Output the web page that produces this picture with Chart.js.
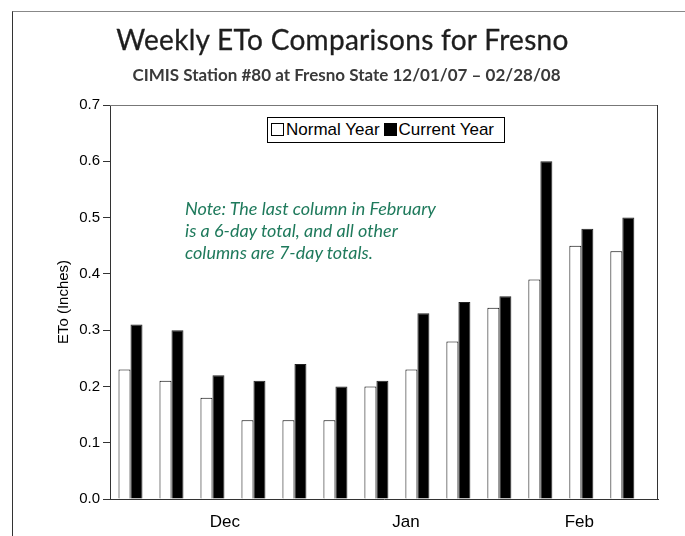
<!DOCTYPE html>
<html>
<head>
<meta charset="utf-8">
<script src="https://cdn.jsdelivr.net/npm/chart.js@4"></script>
<style>
  html, body { margin: 0; padding: 0; background: #fff; }
  #wrap { position: relative; width: 685px; height: 536px; overflow: hidden; }
  #frame { position: absolute; left: 12px; top: 11px; right: -2px; bottom: -2px;
           border-left: 1px solid #333; border-top: 1px solid #888; }
  #title { position: absolute; left: 0; width: 685px; top: 22px; text-align: center;
           font-family: Lato, sans-serif; font-size: 28px; color: #1e1e1e; letter-spacing: 0.3px;
           -webkit-text-stroke: 0.3px #1e1e1e; }
  #subtitle { position: absolute; left: 0; width: 693px; top: 64px; text-align: center;
              font-family: Lato, sans-serif; font-weight: bold; font-size: 17px; color: #3a3a3a; }
  #legend { position: absolute; left: 267px; top: 117px; width: 233px; height: 24px;
            border: 1px solid #000; background: #fff; font-family: "Liberation Sans", Arial, sans-serif;
            font-size: 17px; line-height: 24px; white-space: nowrap; padding-left: 3px; box-sizing: content-box; }
  #legend span.sw { display: inline-block; width: 11px; height: 11px; border: 1px solid #000;
                    margin-right: 2px; vertical-align: -1px; }
  #legend span.item { margin-right: 4px; }
  #note { position: absolute; left: 185px; top: 197px; font-family: Lato, sans-serif; font-style: italic;
          font-size: 18px; line-height: 22px; color: #1f7a5c; }
</style>
</head>
<body>
<div id="wrap">
  <canvas id="etoChart" width="685" height="536"></canvas>
  <div id="frame"></div>
  <div id="title">Weekly ETo Comparisons for Fresno</div>
  <div id="subtitle">CIMIS Station #80 at Fresno State 12/01/07 &ndash; 02/28/08</div>
  <div id="legend"></div>
  <div id="note">Note: The last column in February<br>is a 6-day total, and all other<br>columns are 7-day totals.</div>
</div>
<script>
// week start dates (one column pair per week)
var weeks = ['12/01', '12/08', '12/15', '12/22', '12/29', '01/05', '01/12',
             '01/19', '01/26', '02/02', '02/09', '02/16', '02/23'];

// weekly ETo, inches
var normalYear  = [0.23, 0.21, 0.18, 0.14, 0.14, 0.14, 0.20, 0.23, 0.28, 0.34, 0.39, 0.45, 0.44];
var currentYear = [0.31, 0.30, 0.22, 0.21, 0.24, 0.20, 0.21, 0.33, 0.35, 0.36, 0.60, 0.48, 0.50];

// month labels along the x axis and where they sit (in week units)
var months = ['Dec', 'Jan', 'Feb'];
var monthTicks = [2.3, 6.72, 10.95];

var yTicks = [0, 0.1, 0.2, 0.3, 0.4, 0.5, 0.6, 0.7];

function toPoints(values) {
    return values.map(function(v, i) { return { x: i, y: v }; });
}

// box round the plot area
var plotFrame = {
    id: 'plotFrame',
    afterDatasetsDraw: function(chart) {
        var a = chart.chartArea, ctx = chart.ctx;
        ctx.save();
        ctx.lineWidth = 1;
        ctx.strokeStyle = '#777';
        ctx.beginPath();
        ctx.moveTo(a.left, a.top + 0.5);
        ctx.lineTo(a.right, a.top + 0.5);
        ctx.stroke();
        ctx.strokeStyle = '#333';
        ctx.beginPath();
        ctx.moveTo(a.right - 0.5, a.top);
        ctx.lineTo(a.right - 0.5, a.bottom);
        ctx.stroke();
        ctx.restore();
    }
};

var ctx = document.getElementById('etoChart').getContext('2d');

var etoChart = new Chart(ctx, {
    type: 'bar',
    data: {
        datasets: [{
            label: 'Normal Year',
            data: toPoints(normalYear),
            backgroundColor: '#ffffff',
            borderColor: '#000000',
            borderWidth: 1,
            categoryPercentage: 0.585,
            barPercentage: 1.0
        }, {
            label: 'Current Year',
            data: toPoints(currentYear),
            backgroundColor: '#000000',
            borderColor: '#222222',
            borderWidth: 1,
            categoryPercentage: 0.585,
            barPercentage: 1.0
        }]
    },
    options: {
        responsive: false,
        animation: false,
        layout: { padding: { top: 105, right: 27, left: 0, bottom: 0 } },
        plugins: {
            legend: { display: false },
            tooltip: { enabled: false }
        },
        scales: {
            x: {
                type: 'linear',
                offset: false,
                min: -0.5,
                max: 12.87,
                grid: { display: false, drawTicks: false, offset: false },
                border: { display: true, color: '#333', width: 1 },
                afterBuildTicks: function(scale) {
                    scale.ticks = monthTicks.map(function(v) { return { value: v }; });
                },
                ticks: {
                    autoSkip: false,
                    maxRotation: 0,
                    padding: 13,
                    color: '#000',
                    font: { family: 'Liberation Sans', size: 17 },
                    callback: function(value) {
                        var i = monthTicks.indexOf(value);
                        return i >= 0 ? months[i] : '';
                    }
                },
                afterFit: function(scale) { scale.height = 37; }
            },
            y: {
                min: 0,
                max: 0.7,
                afterBuildTicks: function(scale) {
                    scale.ticks = yTicks.map(function(v) { return { value: v }; });
                },
                grid: { drawOnChartArea: false, drawTicks: true, tickLength: 7, color: '#333' },
                border: { display: true, color: '#333', width: 1 },
                ticks: {
                    padding: 3,
                    color: '#000',
                    font: { family: 'Liberation Sans', size: 15 },
                    callback: function(value) { return value.toFixed(1); }
                },
                title: {
                    display: true,
                    text: 'ETo (Inches)',
                    color: '#000',
                    font: { family: 'Liberation Sans', size: 15 },
                    padding: { top: 55, bottom: 0 }
                },
                afterFit: function(scale) { scale.width = 110; }
            }
        }
    },
    plugins: [plotFrame]
});

// legend box built from the datasets
var legendEl = document.getElementById('legend');
etoChart.data.datasets.forEach(function(ds) {
    var item = document.createElement('span');
    item.className = 'item';
    var sw = document.createElement('span');
    sw.className = 'sw';
    sw.style.background = ds.backgroundColor;
    item.appendChild(sw);
    item.appendChild(document.createTextNode(ds.label));
    legendEl.appendChild(item);
});
</script>
</body>
</html>
